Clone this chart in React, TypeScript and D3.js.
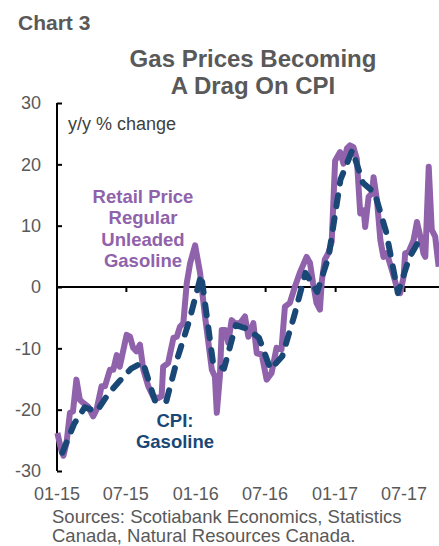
import React, { useEffect, useRef } from "react";
import * as d3 from "d3";

const W = 439;
const H = 546;
const MARGIN = { LEFT: 57, RIGHT: 0, TOP: 103, BOTTOM: 74 };

const PURPLE = "#8F62AB";
const NAVY = "#1A4876";
const GREY = "#595959";

// CPI: Gasoline, y/y % change, monthly Jan 2015 - Aug 2017
const cpiMonths = d3.range(0, 32).map((m) => new Date(2015, m, 15));
const cpiValues = [
  -27, -22.3, -19.6, -20.3, -17.5, -15.3, -13.3, -12.3, -18.5, -18.7, -11.3, -5.4,
  2, -12.3, -13.3, -6.2, -6.8, -8.3, -13.4, -11.3, -4.8, 2.3, -0.8, 5,
  17.5, 22.3, 17, 15.3, 9, -1, 4.8, 8.2,
];

// Retail price, regular unleaded gasoline, y/y % change (weekly-ish readings)
const retailDates = [
  "2015-01-02", "2015-01-13", "2015-01-18", "2015-01-26", "2015-02-04", "2015-02-12",
  "2015-02-21", "2015-03-02", "2015-03-11", "2015-03-24", "2015-04-06", "2015-04-15",
  "2015-04-28", "2015-05-07", "2015-05-20", "2015-05-29", "2015-06-07", "2015-06-15",
  "2015-07-03", "2015-07-12", "2015-07-20", "2015-07-29", "2015-08-07", "2015-08-16",
  "2015-08-29", "2015-09-11", "2015-09-24", "2015-10-03", "2015-10-07", "2015-10-20",
  "2015-11-03", "2015-11-12", "2015-11-20", "2015-11-29", "2015-12-08", "2015-12-17",
  "2015-12-30", "2016-01-12", "2016-01-25", "2016-02-03", "2016-02-12", "2016-02-20",
  "2016-02-25", "2016-03-04", "2016-03-09", "2016-03-18", "2016-03-26", "2016-04-04",
  "2016-04-13", "2016-04-26", "2016-05-09", "2016-05-18", "2016-05-31", "2016-06-09",
  "2016-06-22", "2016-07-05", "2016-07-18", "2016-07-31", "2016-08-13", "2016-08-22",
  "2016-09-04", "2016-09-17", "2016-09-30", "2016-10-18", "2016-10-27", "2016-11-04",
  "2016-11-13", "2016-11-22", "2016-11-27", "2016-12-05", "2016-12-14", "2016-12-23",
  "2017-01-01", "2017-01-14", "2017-01-23", "2017-02-01", "2017-02-09", "2017-02-18",
  "2017-02-27", "2017-03-08", "2017-03-17", "2017-03-21", "2017-03-30", "2017-04-08",
  "2017-04-12", "2017-04-21", "2017-04-30", "2017-05-08", "2017-05-17", "2017-05-30",
  "2017-06-12", "2017-06-21", "2017-06-30", "2017-07-04", "2017-07-13", "2017-07-26",
  "2017-08-04", "2017-08-13", "2017-08-21", "2017-08-26", "2017-09-04", "2017-09-12",
  "2017-09-21", "2017-09-30",
];
const retailValues = [
  -23.8, -26.8, -27.5, -25.4, -20.5, -20.3,
  -15.1, -18.4, -18.9, -19.5, -21.1, -20,
  -16.2, -16.2, -13.5, -13.5, -11.1, -13,
  -7.8, -8.1, -9.9, -10.5, -9.4, -13.5,
  -16.2, -17.9, -18.1, -17.8, -13, -12.4,
  -8.3, -8.1, -6.5, -5.9, 0.6, 3.9,
  6.8, 2.3, -4.8, -9.1, -13.5, -14.6,
  -20.5, -14.6, -7, -7, -9.1, -5.4,
  -5.9, -5.9, -4.8, -8.1, -5.9, -10.8,
  -11, -15.1, -14, -9.9, -10.2, -3.2,
  -2.6, 0, 2.3, 4.9, 3.9, 0.6,
  -2.6, -3.7, 1, 4.5, 5.5, 7.4,
  20.6, 22, 20.1, 22.6, 23.1, 22.8,
  20.9, 12, 12.5, 9.8, 14.7, 15.3,
  17.9, 14.1, 7.6, 4.9, 5.5, 2.8,
  0, -1, 1.7, 5.5, 5.7, 7.6,
  10.6, 8.2, 5.5, 4.9, 19.6, 9.3,
  8.2, 3.3,
];

const yTicks = [-30, -20, -10, 0, 10, 20, 30];
const xTickDates = [
  new Date(2015, 0, 1), new Date(2015, 6, 1), new Date(2016, 0, 1),
  new Date(2016, 6, 1), new Date(2017, 0, 1), new Date(2017, 6, 1),
];

const FONT = "'Liberation Sans', Arial, sans-serif";

export default function App() {
  const ref = useRef<SVGSVGElement>(null);

  useEffect(() => {
    const svg = d3.select(ref.current);
    svg.selectAll("*").remove();

    const x = d3
      .scaleTime()
      .domain([new Date(2015, 0, 1), new Date(2017, 6, 1)])
      .range([MARGIN.LEFT, 404]);
    const y = d3.scaleLinear().domain([-30, 30]).range([H - MARGIN.BOTTOM - 1, MARGIN.TOP]);

    // headings
    svg.append("text")
      .attr("x", 18).attr("y", 30)
      .attr("font-family", "'Liberation Sans Narrow', 'Arial Narrow', " + FONT)
      .attr("font-weight", "bold").attr("font-size", 21)
      .attr("fill", GREY)
      .text("Chart 3");

    const title = svg.append("text")
      .attr("text-anchor", "middle")
      .attr("font-family", FONT).attr("font-weight", "bold").attr("font-size", 24)
      .attr("fill", GREY);
    title.append("tspan").attr("x", 253).attr("y", 67).text("Gas Prices Becoming");
    title.append("tspan").attr("x", 253).attr("y", 94).text("A Drag On CPI");

    // y axis
    const yAxis = svg.append("g").attr("transform", `translate(${MARGIN.LEFT},0)`)
      .call(d3.axisRight(y).tickValues(yTicks).tickSize(5).tickFormat(() => ""));
    yAxis.select(".domain").attr("stroke", "#000").attr("stroke-width", 2)
      .attr("d", `M0,${MARGIN.TOP}V${y(-30)}`);
    yAxis.selectAll(".tick line").attr("stroke", "#000").attr("stroke-width", 2);

    svg.append("g").selectAll("text").data(yTicks).enter().append("text")
      .attr("x", 41).attr("y", (d) => y(d)).attr("dy", "0.36em")
      .attr("text-anchor", "end")
      .attr("font-family", FONT).attr("font-size", 18).attr("fill", GREY)
      .text((d) => d);

    // zero line with month ticks
    const xAxis = svg.append("g").attr("transform", `translate(0,${y(0)})`)
      .call(d3.axisBottom(x).tickValues(xTickDates.slice(1)).tickSize(5).tickFormat(() => ""));
    xAxis.select(".domain").attr("stroke", "#000").attr("stroke-width", 2)
      .attr("d", `M${MARGIN.LEFT},0H${W}`);
    xAxis.selectAll(".tick line").attr("stroke", "#000").attr("stroke-width", 2);

    svg.append("g").selectAll("text").data(xTickDates).enter().append("text")
      .attr("x", (d) => x(d)).attr("y", 500)
      .attr("text-anchor", "middle")
      .attr("font-family", FONT).attr("font-size", 18).attr("fill", GREY)
      .text((d) => d3.timeFormat("%m-%y")(d));

    svg.append("text")
      .attr("x", 68).attr("y", 130)
      .attr("font-family", FONT).attr("font-size", 18).attr("fill", "#404040")
      .text("y/y % change");

    // series
    const line = d3.line<[Date, number]>().x((d) => x(d[0])).y((d) => y(d[1]));
    const retail: [Date, number][] = retailDates.map((d, i) => [new Date(d + "T00:00"), retailValues[i]]);
    const cpi: [Date, number][] = cpiMonths.map((d, i) => [d, cpiValues[i]]);

    svg.append("path").attr("d", line(retail))
      .attr("fill", "none").attr("stroke", PURPLE).attr("stroke-width", 6)
      .attr("stroke-linejoin", "round");
    svg.append("path").attr("d", line(cpi))
      .attr("fill", "none").attr("stroke", NAVY).attr("stroke-width", 6)
      .attr("stroke-dasharray", "11 12").attr("stroke-linecap", "round")
      .attr("stroke-linejoin", "round");

    // labels
    const lab1 = svg.append("text").attr("text-anchor", "middle")
      .attr("font-family", FONT).attr("font-weight", "bold").attr("font-size", 18.5)
      .attr("fill", PURPLE);
    ["Retail Price", "Regular", "Unleaded", "Gasoline"].forEach((t, i) =>
      lab1.append("tspan").attr("x", 143).attr("y", 203 + i * 21.3).text(t));

    const lab2 = svg.append("text").attr("text-anchor", "middle")
      .attr("font-family", FONT).attr("font-weight", "bold").attr("font-size", 18.5)
      .attr("fill", NAVY);
    ["CPI:", "Gasoline"].forEach((t, i) =>
      lab2.append("tspan").attr("x", 175).attr("y", 427 + i * 20.5).text(t));

    // source
    const src = svg.append("text")
      .attr("font-family", FONT).attr("font-size", 18.5).attr("fill", GREY);
    src.append("tspan").attr("x", 52).attr("y", 523).text("Sources: Scotiabank Economics, Statistics");
    src.append("tspan").attr("x", 52).attr("y", 542).text("Canada, Natural Resources Canada.");
  });

  return (
    <svg
      ref={ref}
      width={W}
      height={H}
      style={{ position: "absolute", left: 0, top: 0, background: "#fff" }}
    />
  );
}
